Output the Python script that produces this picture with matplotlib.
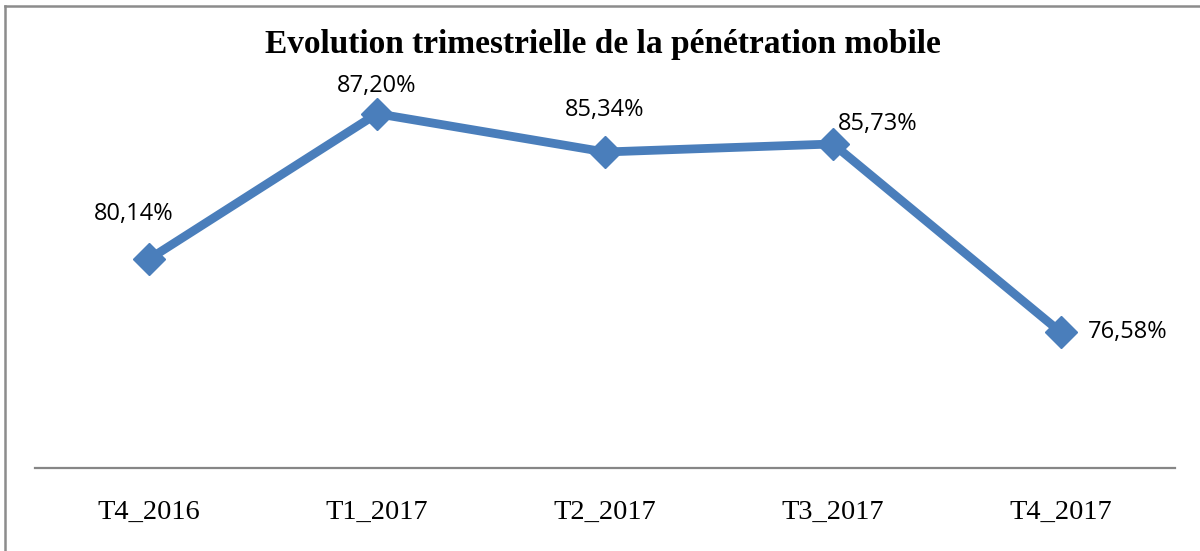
import matplotlib
matplotlib.use("Agg")
import matplotlib.pyplot as plt
from matplotlib.lines import Line2D

# donnees
trimestres = ["T4_2016", "T1_2017", "T2_2017", "T3_2017", "T4_2017"]
penetration = [80.14, 87.20, 85.34, 85.73, 76.58]
etiquettes = ["80,14%", "87,20%", "85,34%", "85,73%", "76,58%"]

# decalage des etiquettes (pixels)
decalages = [(-15, 45), (0, 28), (0, 42), (45, 20), (67, 0)]

bleu = "#4A7EBB"

fig = plt.figure(figsize=(12, 5.51), dpi=100)
ax = fig.add_axes([35 / 1200, 83 / 551, 1140 / 1200, 412 / 551])

x = list(range(len(trimestres)))
ax.plot(x, penetration, color=bleu, linewidth=6.3, marker="D", markersize=16,
        markerfacecolor=bleu, markeredgecolor=bleu, solid_joinstyle="miter")

for xi, yi, lab, off in zip(x, penetration, etiquettes, decalages):
    ax.annotate(lab, (xi, yi), xytext=off, textcoords="offset pixels",
                ha="center", va="center", fontsize=17, family="Open Sans",
                color="black")

ax.set_xlim(-0.5, len(trimestres) - 0.5)
ax.set_ylim(70, 90)
ax.set_xticks(x)
ax.set_xticklabels(trimestres, family="Liberation Serif", fontsize=20.5)
ax.tick_params(axis="x", length=0, pad=23)
ax.set_yticks([])
for s in ["top", "right", "left"]:
    ax.spines[s].set_visible(False)
ax.spines["bottom"].set_color("#868686")
ax.spines["bottom"].set_linewidth(1.6)

fig.text(603 / 1200, 1 - 45 / 551, "Evolution trimestrielle de la pénétration mobile",
         ha="center", va="center", family="Liberation Serif", fontweight="bold",
         fontsize=24)

# cadre gris (haut et gauche)
fig.add_artist(Line2D([5 / 1200, 1], [1 - 6 / 551, 1 - 6 / 551], color="#8c8c8c",
                      linewidth=1.8, transform=fig.transFigure))
fig.add_artist(Line2D([5 / 1200, 5 / 1200], [0, 1 - 6 / 551], color="#8c8c8c",
                      linewidth=1.8, transform=fig.transFigure))

fig.savefig("out.png", dpi=100)
